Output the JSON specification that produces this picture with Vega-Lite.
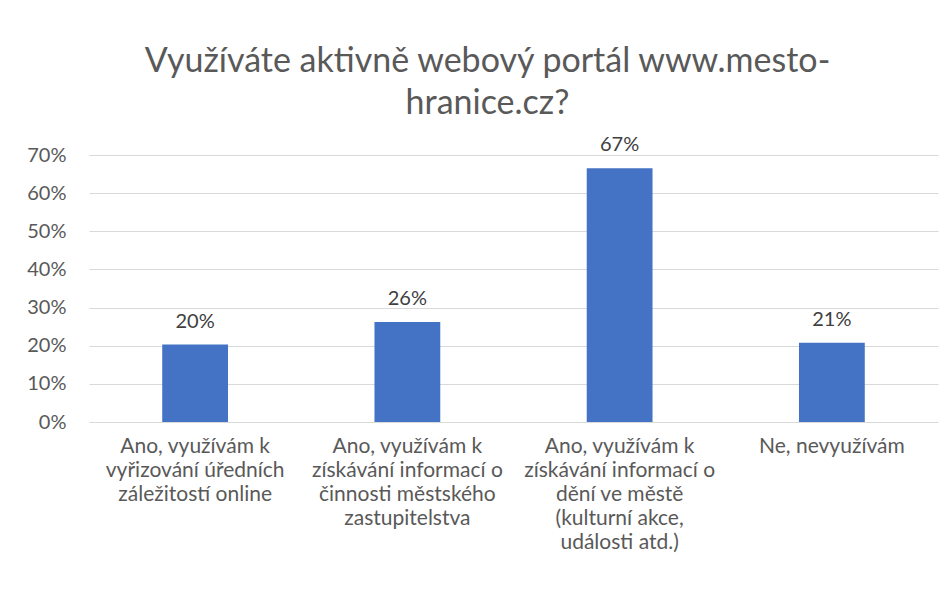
{
  "$schema": "https://vega.github.io/schema/vega-lite/v6.json",
  "autosize": {"type": "none"},
  "width": 849,
  "height": 267,
  "padding": {"left": 89, "top": 155, "right": 14, "bottom": 172},
  "background": "white",
  "data": {"values": [
    {"kategorie": "Ano, využívám k|vyřizování úředních|záležitostí online", "podil": 0.203},
    {"kategorie": "Ano, využívám k|získávání informací o|činnosti městského|zastupitelstva", "podil": 0.262},
    {"kategorie": "Ano, využívám k|získávání informací o|dění ve městě|(kulturní akce,|události atd.)", "podil": 0.665},
    {"kategorie": "Ne, nevyužívám", "podil": 0.208}
  ]},
  "title": {
    "text": ["Využíváte aktivně webový portál www.mesto-", "hranice.cz?"],
    "font": "Lato",
    "fontSize": 34,
    "fontWeight": "normal",
    "color": "#595959",
    "lineHeight": 42,
    "anchor": "middle",
    "dx": -26,
    "offset": 14
  },
  "config": {
    "view": {"stroke": null},
    "font": "Lato"
  },
  "encoding": {
    "x": {
      "field": "kategorie",
      "type": "nominal",
      "sort": null,
      "scale": {"paddingInner": 0.69, "paddingOuter": 0.345},
      "axis": {
        "title": null,
        "labelAngle": 0,
        "labelExpr": "split(datum.label, '|')",
        "labelFont": "Lato",
        "labelFontSize": 21,
        "labelColor": "#595959",
        "labelLineHeight": 24,
        "labelPadding": 13,
        "labelBaseline": "top",
        "labelLimit": 0,
        "ticks": false,
        "domainColor": "#d9d9d9",
        "domainWidth": 1.2
      }
    },
    "y": {
      "field": "podil",
      "type": "quantitative",
      "scale": {"domain": [0, 0.7]},
      "axis": {
        "title": null,
        "format": ".0%",
        "values": [0, 0.1, 0.2, 0.3, 0.4, 0.5, 0.6, 0.7],
        "labelFont": "Lato",
        "labelFontSize": 20,
        "labelColor": "#595959",
        "labelPadding": 23,
        "ticks": false,
        "domain": false,
        "gridColor": "#d9d9d9",
        "gridWidth": 1.2
      }
    }
  },
  "layer": [
    {"mark": {"type": "bar", "color": "#4472c4"}},
    {
      "mark": {"type": "text", "dy": -17, "baseline": "alphabetic", "fontSize": 20, "color": "#404040", "font": "Lato"},
      "encoding": {"text": {"field": "podil", "type": "quantitative", "format": ".0%"}}
    }
  ]
}
